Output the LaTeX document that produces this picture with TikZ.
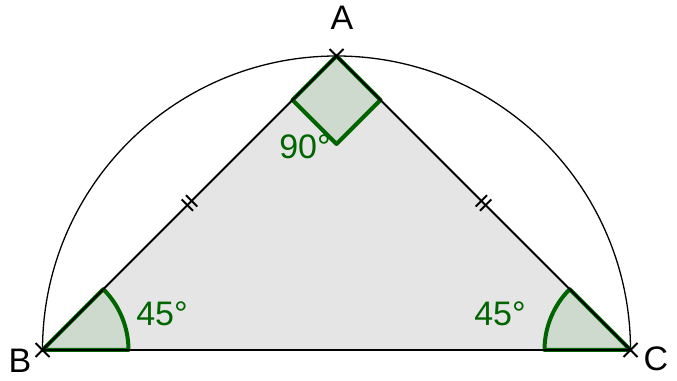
\documentclass[tikz,border=0pt]{standalone}
\usepackage{fontspec}
\setmainfont{Liberation Sans}
\usetikzlibrary{calc}
\begin{document}
\begin{tikzpicture}[x=1pt, y=1pt]
    \definecolor{angleColour}{RGB}{0,100,0}
    \definecolor{fillColourT}{RGB}{229,229,229}
    \definecolor{fillColourAngle}{RGB}{206,218,206}

    \def\radius{294}
    \tikzset{
        lbl/.style={font=\fontsize{34}{36}\selectfont, inner sep=0pt},
        anglbl/.style={lbl, text=angleColour},
        anglemark/.style={draw=angleColour, fill=fillColourAngle, line width=4pt, line join=round},
        side/.style={line width=1.8pt},
        crossmark/.style={line width=1.8pt}
    }

    \useasboundingbox (0,0) rectangle (677,380);

    % Points of the triangle
    \coordinate (O) at (336.5,30);
    \coordinate (B) at (42.5,30);
    \coordinate (C) at (630.5,30);
    \coordinate (A) at (336.5,324);

    % Fill triangle
    \fill[fillColourT] (A) -- (B) -- (C) -- cycle;

    % Draw semicircle
    \draw[line width=1.3pt] (C) arc (0:180:\radius);

    % Angle marks
    \filldraw[anglemark] (B) -- ++(86,0) arc (0:45:86) -- cycle;
    \filldraw[anglemark] (C) -- ++(135:86) arc (135:180:86) -- cycle;
    \filldraw[anglemark] (A) -- ++(-44,-44) -- ++(44,-44) -- ++(44,44) -- cycle;

    % Draw sides
    \draw[side] (A) -- (B);
    \draw[side] (B) -- (C);
    \draw[side] (C) -- (A);

    % Equal sides
    \coordinate (M1) at ($(A)!0.5!(B)$);
    \coordinate (M2) at ($(A)!0.5!(C)$);
    \draw[side, shift={(M1)}, rotate=45] (-3,-8) -- (-3,8) (3,-8) -- (3,8);
    \draw[side, shift={(M2)}, rotate=-45] (-3,-8) -- (-3,8) (3,-8) -- (3,8);

    % Crosses on the points
    \foreach \p in {A,B,C}
        \draw[crossmark] (\p) +(-7,-7) -- +(7,7) +(-7,7) -- +(7,-7);

    % Labels
    \node[lbl] (lblA) at (342,362) {A};
    \node[lbl] (lblB) at (20,19) {B};
    \node[lbl] (lblC) at (656,21) {C};
    \node[anglbl] (lbl90) at (305,233) {90°};
    \node[anglbl] (lbl45B) at (162,66) {45°};
    \node[anglbl] (lbl45C) at (500,66) {45°};

\end{tikzpicture}
\end{document}
